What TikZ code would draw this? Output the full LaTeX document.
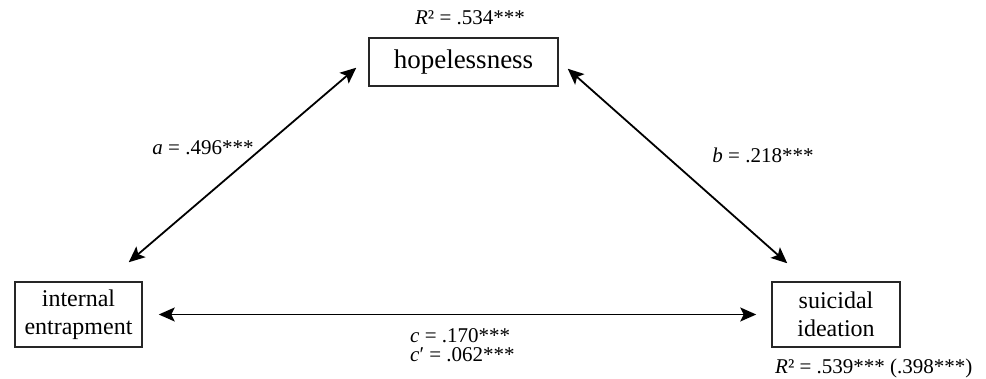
\documentclass[tikz,border=0pt]{standalone}
\usepackage{fontspec}
\setmainfont{Liberation Serif}
\usetikzlibrary{arrows.meta,positioning}
\tikzset{
  varbox/.style={
    draw=black!85,
    line width=1.5pt,
    fill=white,
    align=center,
    font=\fontsize{24}{28}\selectfont,
    inner sep=0pt
  },
  coef/.style={font=\fontsize{21}{24}\selectfont,inner sep=0pt},
  bothway/.style={{Stealth[length=16pt,width=14pt,inset=3.5pt]}-{Stealth[length=16pt,width=14pt,inset=3.5pt]},draw=black,line width=1.8pt}
}
\begin{document}
\begin{tikzpicture}[x=1pt,y=1pt]
\useasboundingbox (0,0) rectangle (986,379);
\node[varbox,minimum width=189pt,minimum height=48pt,font=\fontsize{27}{30}\selectfont] (hop) at (463.5,317) {hopelessness};
\node[varbox,minimum width=127pt,minimum height=65pt] (ent) at (78.5,64.5) {internal\\entrapment};
\node[varbox,minimum width=128pt,minimum height=65pt] (ide) at (836,64.5) {suicidal\\ideation};
\node[coef,anchor=base] (rhop) at (470,354) {\textit{R}² = .534***};
\node[coef,anchor=base west] (ride) at (775,5) {\textit{R}² = .539*** (.398***)};
\node[coef,anchor=base] (apath) at (203,224) {\textit{a} = .496***};
\node[coef,anchor=base] (bpath) at (763,216) {\textit{b} = .218***};
\node[coef,anchor=base west] (cpath) at (410,36) {\textit{c} = .170***};
\node[coef,anchor=base west] (cppath) at (410,17) {\textit{c}′ = .062***};
\draw[bothway] ([xshift=-14pt,yshift=19pt]ent.north east) -- ([xshift=-12pt,yshift=19pt]hop.south west);
\draw[bothway] ([xshift=9pt,yshift=18pt]hop.south east) -- ([xshift=16pt,yshift=18pt]ide.north west);
\draw[bothway,shorten <=16pt,shorten >=15pt] (ent.east) -- (ide.west);
\end{tikzpicture}
\end{document}
